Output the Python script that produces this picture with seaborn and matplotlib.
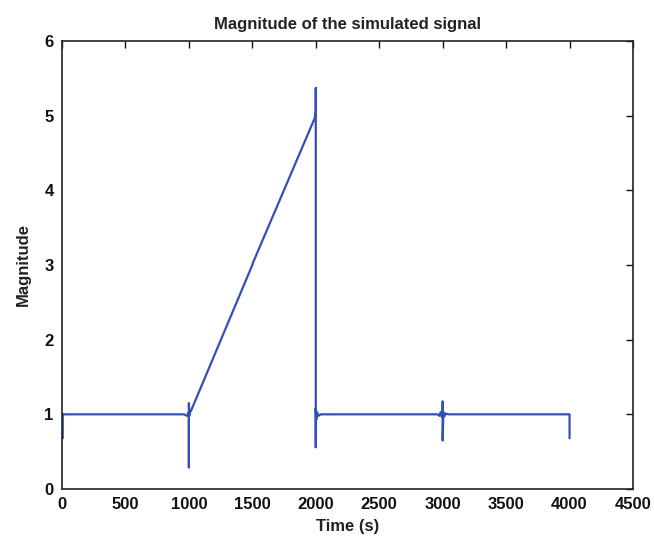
import matplotlib
matplotlib.use("Agg")
import matplotlib.pyplot as plt
import seaborn as sns
import pandas as pd

# Breakpoints of the simulated magnitude trace (time in s, magnitude)
time_s = [6, 6, 0, 960, 985, 995, 1000, 1000, 1000, 1003, 1008, 1015,
          1500, 1505, 1990, 1997, 2000, 2000, 2000, 2000, 2004, 2010, 2020, 2040, 2150,
          2960, 2975, 2985, 2995, 3000, 3000, 3000, 3005, 3012, 3025, 3045,
          4000, 4000]
magnitude = [0.68, 1.0, 1.0, 1.0, 0.98, 1.02, 1.0, 0.29, 1.15, 0.98, 1.06, 1.04,
             3.0, 3.03, 4.96, 5.02, 4.98, 5.37, 0.56, 1.08, 0.93, 1.03, 0.98, 1.0, 1.0,
             1.0, 0.98, 1.03, 0.96, 1.0, 1.17, 0.65, 1.03, 0.97, 1.01, 1.0,
             1.0, 0.68]

df = pd.DataFrame({"t": time_s, "m": magnitude})

sns.set_style("white")
plt.rcParams["font.family"] = ["Liberation Sans", "DejaVu Sans"]

fig = plt.figure(figsize=(6.54, 5.46), dpi=100)
ax = fig.add_axes([62 / 654, 57 / 546, 571 / 654, 448 / 546])

sns.lineplot(data=df, x="t", y="m", sort=False, estimator=None,
             color="#3450b8", linewidth=1.6, ax=ax)

ax.set_xlim(0, 4500)
ax.set_ylim(0, 6)
ax.set_xticks(range(0, 4501, 500))
ax.set_yticks(range(0, 7))
ax.tick_params(direction="in", length=5, width=1, top=True, right=True,
               labelsize=12, colors="#111111", pad=6)
for lbl in ax.get_xticklabels() + ax.get_yticklabels():
    lbl.set_fontweight("bold")
for s in ax.spines.values():
    s.set_visible(True)
    s.set_color("#222222")
    s.set_linewidth(1.2)

ax.set_title("Magnitude of the simulated signal", fontsize=12, pad=9,
             fontweight="bold", color="#222222")
ax.set_xlabel("Time (s)", fontsize=12, labelpad=5, fontweight="bold",
              color="#222222")
ax.set_ylabel("Magnitude", fontsize=12, labelpad=10, fontweight="bold",
              color="#222222")

fig.savefig("out.png", dpi=100)
